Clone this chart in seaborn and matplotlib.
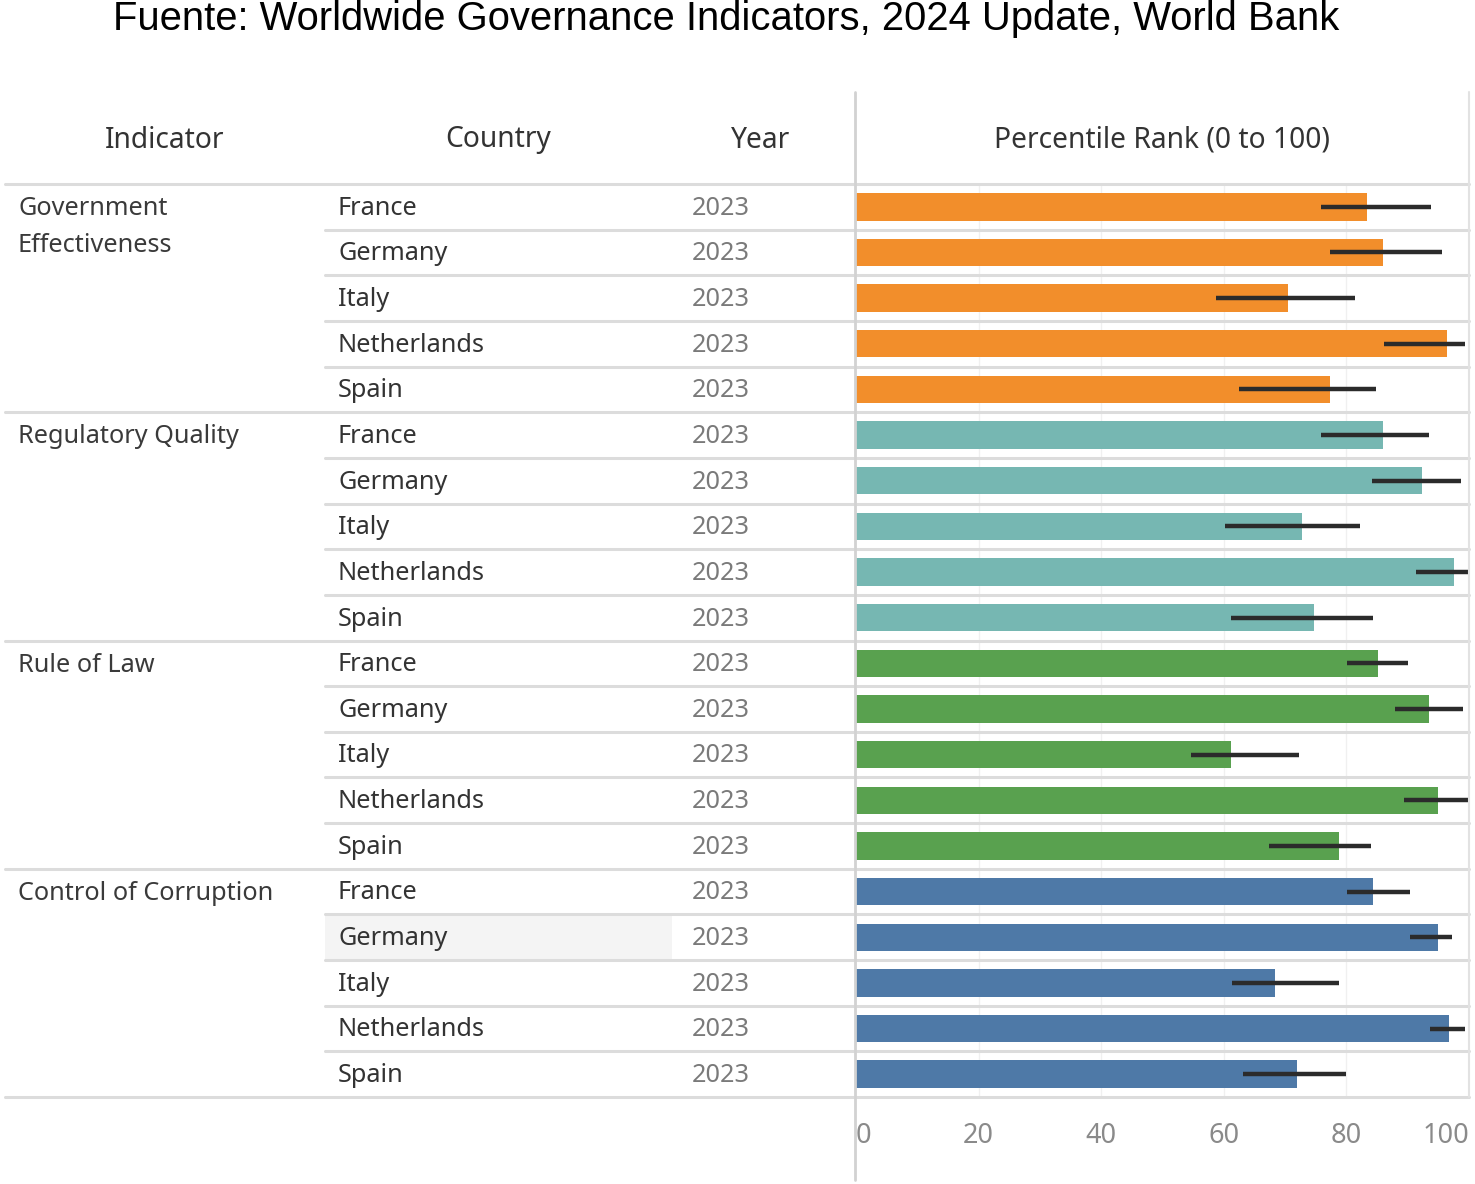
import matplotlib
matplotlib.use("Agg")
import matplotlib.pyplot as plt
import matplotlib.transforms as mtransforms
from matplotlib.lines import Line2D
from matplotlib.patches import Rectangle
import numpy as np
import pandas as pd
import seaborn as sns

# --------------------------- data ---------------------------
indicators = ["Government Effectiveness", "Regulatory Quality",
              "Rule of Law", "Control of Corruption"]
indicator_labels = ["Government\nEffectiveness", "Regulatory Quality",
                    "Rule of Law", "Control of Corruption"]
countries = ["France", "Germany", "Italy", "Netherlands", "Spain"]
year = "2023"

rank = {
    "Government Effectiveness": [83.3, 86.0, 70.5, 96.4, 77.3],
    "Regulatory Quality":       [86.0, 92.3, 72.7, 97.5, 74.7],
    "Rule of Law":              [85.2, 93.5, 61.1, 94.9, 78.8],
    "Control of Corruption":    [84.4, 94.9, 68.3, 96.8, 72.0],
}
lower = {
    "Government Effectiveness": [75.9, 77.4, 58.7, 86.1, 62.4],
    "Regulatory Quality":       [75.9, 84.2, 60.2, 91.3, 61.2],
    "Rule of Law":              [80.1, 88.0, 54.6, 89.4, 67.3],
    "Control of Corruption":    [80.1, 90.3, 61.3, 93.6, 63.2],
}
upper = {
    "Government Effectiveness": [93.8, 95.6, 81.4, 99.3, 84.8],
    "Regulatory Quality":       [93.5, 98.7, 82.2, 100.0, 84.4],
    "Rule of Law":              [90.0, 99.0, 72.3, 100.0, 84.0],
    "Control of Corruption":    [90.3, 97.2, 78.8, 99.3, 79.9],
}
colors = ["#F28E2B", "#76B7B2", "#59A14F", "#4E79A7"]
x_ticks = [0, 20, 40, 60, 80, 100]

rows = []
for ind in indicators:
    for i, c in enumerate(countries):
        rows.append(dict(indicator=ind, country=c, row=f"{ind}|{c}",
                         rank=rank[ind][i], lo=lower[ind][i], hi=upper[ind][i]))
df = pd.DataFrame(rows)

# --------------------------- figure ---------------------------
W, H = 1475, 1184
sns.set_theme(style="white")
plt.rcParams["font.family"] = ["Noto Sans", "DejaVu Sans"]

fig = plt.figure(figsize=(W / 100, H / 100), dpi=100)
x0, x1 = 856, 1469
y_top, y_bot = 184, 1097
ax = fig.add_axes([x0 / W, 1 - y_bot / H, (x1 - x0) / W, (y_bot - y_top) / H])

sns.barplot(data=df, y="row", x="rank", hue="indicator", palette=colors,
            dodge=False, width=0.6, orient="h", legend=False, ax=ax,
            saturation=1, linewidth=0)
ypos = np.arange(len(df))
ax.hlines(ypos, df["lo"], df["hi"], color="#2b2b2b", lw=3.2, zorder=5)

ax.set_xlim(0, 100)
ax.set_ylim(len(df) - 0.5, -0.5)
ax.set_xlabel(""); ax.set_ylabel("")
ax.set_yticks([])
ax.set_xticks(x_ticks)
ax.set_xticklabels([str(t) for t in x_ticks])
ax.tick_params(axis="x", length=0, pad=18, labelsize=19.5, labelcolor="#8a8a8a")
labels = ax.get_xticklabels()
labels[0].set_ha("left"); labels[-1].set_ha("right")
for s in ax.spines.values():
    s.set_visible(False)
for t in x_ticks[1:-1]:
    ax.axvline(t, color="#f0f0f0", lw=1, zorder=0)

# blended transform: x in figure fraction, y in data rows
tr = mtransforms.blended_transform_factory(fig.transFigure, ax.transData)
fx = lambda px: px / W

# highlighted row (hover) in Control of Corruption / Germany
hl = df.index[(df["indicator"] == "Control of Corruption") & (df["country"] == "Germany")][0]
ax.add_patch(Rectangle((fx(325), hl - 0.5), fx(672) - fx(325), 1.0, transform=tr,
                       color="#f4f4f4", zorder=0.5, clip_on=False, lw=0))

# row separators
for i in range(len(df) + 1):
    start = 5 if i % len(countries) == 0 else 325
    fig.lines.append(Line2D([fx(start), fx(x1)], [i - 0.5, i - 0.5], transform=tr,
                            color="#dcdcdc", lw=2.2))

# vertical lines
fig.lines.append(Line2D([fx(x0 - 1)] * 2, [1 - 92 / H, 1 - 1180 / H],
                        transform=fig.transFigure, color="#d2d2d2", lw=2))
fig.lines.append(Line2D([fx(x1)] * 2, [1 - 92 / H, 1 - y_bot / H],
                        transform=fig.transFigure, color="#e2e2e2", lw=1.5))

# table text
row_px = (y_bot - y_top) / len(df)
txt_kw = dict(fontsize=18.2, transform=tr, clip_on=False)
for k, ind in enumerate(indicators):
    first = k * len(countries)
    for j, line in enumerate(indicator_labels[k].split("\n")):
        ax.text(fx(18), first + 0.04 + j * 37 / row_px, line, ha="left", va="center",
                color="#3a3a3a", **txt_kw)
for i, r in df.iterrows():
    ax.text(fx(338), i + 0.03, r["country"], ha="left", va="center",
            color="#333333", zorder=3, **txt_kw)
    ax.text(fx(750), i + 0.03, year, ha="right", va="center",
            color="#7a7a7a", zorder=3, **txt_kw)

# headers
hy = 1 - 140 / H
for x, s in [(165, "Indicator"), (498, "Country"), (761, "Year"),
             ((x0 + x1) / 2, "Percentile Rank (0 to 100)")]:
    fig.text(fx(x), hy, s, ha="center", va="center", fontsize=20.3, color="#333333")

fig.text(fx(726), 1 - 19 / H,
         "Fuente: Worldwide Governance Indicators, 2024 Update, World Bank",
         ha="center", va="center", fontsize=28.8, color="black",
         family=["Liberation Sans", "DejaVu Sans"])

fig.savefig("out.png", dpi=100, facecolor="white")
